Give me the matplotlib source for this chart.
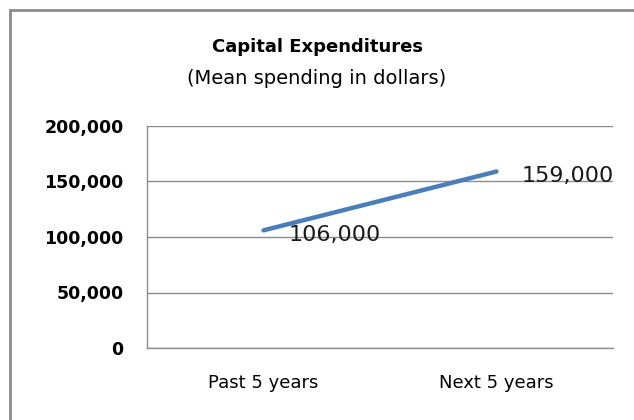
import matplotlib
matplotlib.use("Agg")
import matplotlib.pyplot as plt
from matplotlib.patches import Rectangle
from matplotlib.ticker import FuncFormatter

categories = ["Past 5 years", "Next 5 years"]
values = [106000, 159000]
y_ticks = [0, 50000, 100000, 150000, 200000]

plt.rcParams["font.family"] = ["DejaVu Sans"]

W, H = 634, 420
fig = plt.figure(figsize=(W / 100, H / 100), dpi=100)
fig.patch.set_facecolor("white")

# outer chart frame
fig.patches.append(Rectangle((10 / W, -0.05), 1.0, (H - 10) / H + 0.05,
                             transform=fig.transFigure, fill=False,
                             edgecolor="#8c8c8c", linewidth=2.0))

left, right, top, bottom = 147, 613, 126, 348
ax = fig.add_axes([left / W, 1 - bottom / H, (right - left) / W, (bottom - top) / H])

x = list(range(len(categories)))
ax.plot(x, values, color="#4a7ebb", linewidth=3.2, solid_capstyle="round")

ax.set_xlim(-0.5, len(categories) - 0.5)
ax.set_ylim(0, 200000)
ax.set_yticks(y_ticks)
ax.yaxis.set_major_formatter(FuncFormatter(lambda v, p: f"{int(v):,}"))
ax.set_xticks(x)
ax.set_xticklabels(categories, fontsize=13)
for lab in ax.get_yticklabels():
    lab.set_fontsize(12.5)
    lab.set_fontweight("bold")
ax.tick_params(axis="both", length=0, colors="black")
ax.tick_params(axis="y", pad=17)
ax.tick_params(axis="x", pad=19)

ax.grid(axis="y", color="#8c8c8c", linewidth=1.0)
ax.set_axisbelow(True)
for side in ["top", "right"]:
    ax.spines[side].set_visible(False)
for side in ["left", "bottom"]:
    ax.spines[side].set_color("#8c8c8c")
    ax.spines[side].set_linewidth(1.0)

for xi, v in zip(x, values):
    ax.annotate(f"{v:,}", (xi, v), xytext=(18, -3), textcoords="offset points",
                ha="left", va="center", fontsize=16, color="#1a1a1a")

fig.text(317 / W, 1 - 47 / H, "Capital Expenditures", ha="center", va="center",
         fontsize=13, fontweight="bold")
fig.text(317 / W, 1 - 79 / H, "(Mean spending in dollars)", ha="center", va="center",
         fontsize=14)

fig.savefig("out.png", dpi=100, facecolor="white")
